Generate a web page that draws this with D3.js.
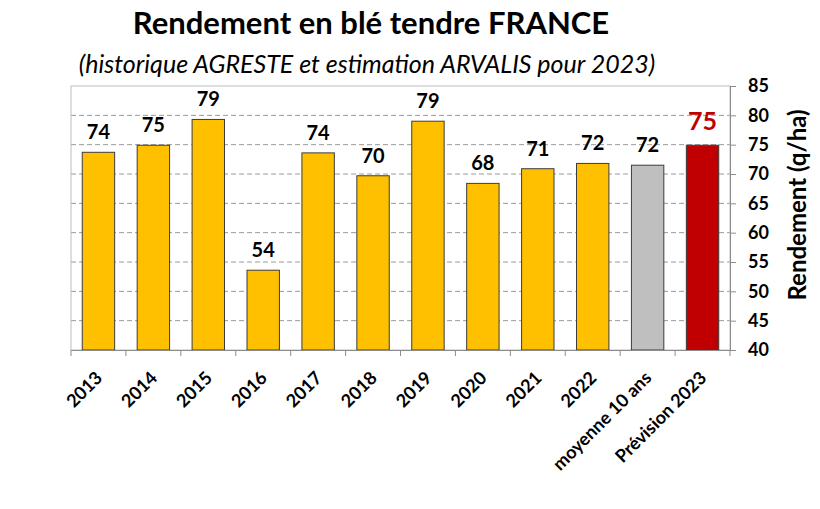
<!DOCTYPE html>
<html><head><meta charset="utf-8">
<script src="https://cdn.jsdelivr.net/npm/d3@7"></script>
<style>body{margin:0;background:#fff}svg{display:block}</style>
</head><body>
<svg id="c" width="820" height="509"></svg>
<script>
const categories = ["2013","2014","2015","2016","2017","2018","2019","2020","2021","2022","moyenne 10 ans","Prévision 2023"];
const values = [73.7, 74.9, 79.3, 53.6, 73.6, 69.7, 79.0, 68.4, 70.9, 71.8, 71.5, 74.9];
const labels = ["74","75","79","54","74","70","79","68","71","72","72","75"];
const barColors = ["#FFC000","#FFC000","#FFC000","#FFC000","#FFC000","#FFC000","#FFC000","#FFC000","#FFC000","#FFC000","#BFBFBF","#C00000"];
const yTicks = [40,45,50,55,60,65,70,75,80,85];
const title = "Rendement en blé tendre FRANCE";
const subtitle = "(historique AGRESTE et estimation ARVALIS pour 2023)";
const yTitle = "Rendement (q/ha)";

const FONT = "Lato, 'Open Sans', sans-serif";
const svg = d3.select("#c");
const L = 71, R = 730, T = 86, B = 350;

const x = d3.scaleBand().domain(categories).range([L, R]).paddingInner(0.41).paddingOuter(0.205);
const y = d3.scaleLinear().domain([40, 85]).range([B, T]);

// gridlines
svg.append("g").selectAll("line").data(yTicks.filter(t => t > 40 && t < 85)).join("line")
  .attr("x1", L).attr("x2", R).attr("y1", d => y(d)).attr("y2", d => y(d))
  .attr("stroke", "#9a9a9a").attr("stroke-width", 1).attr("stroke-dasharray", "5,3");

// plot border
svg.append("rect").attr("x", L).attr("y", T).attr("width", R - L).attr("height", B - T)
  .attr("fill", "none").attr("stroke", "#bdbdbd").attr("stroke-width", 1);

// bars
svg.append("g").selectAll("rect").data(categories).join("rect")
  .attr("x", d => x(d)).attr("width", x.bandwidth())
  .attr("y", (d, i) => y(values[i])).attr("height", (d, i) => B - y(values[i]))
  .attr("fill", (d, i) => barColors[i]).attr("stroke", "#3c3c3c").attr("stroke-width", 1);

// value labels
svg.append("g").selectAll("text").data(categories).join("text")
  .attr("x", d => x(d) + x.bandwidth() / 2)
  .attr("y", (d, i) => y(values[i]) - (i === 11 ? 15 : 13))
  .attr("text-anchor", "middle")
  .attr("font-family", FONT).attr("font-weight", "bold")
  .attr("font-size", (d, i) => i === 11 ? 25 : 20)
  .attr("fill", (d, i) => i === 11 ? "#C00000" : "#000")
  .text((d, i) => labels[i]);

// right axis
const yAxis = svg.append("g").attr("transform", `translate(${R},0)`)
  .call(d3.axisRight(y).tickValues(yTicks).tickSize(6).tickPadding(12));
yAxis.select(".domain").attr("stroke", "#8c8c8c");
yAxis.selectAll(".tick line").attr("stroke", "#8c8c8c");
yAxis.selectAll("text").attr("font-family", FONT).attr("font-weight", "bold").attr("font-size", 18).attr("fill", "#000");

// bottom axis
const xAxis = svg.append("g").attr("transform", `translate(0,${B})`)
  .call(d3.axisBottom(x).tickSize(0).tickFormat(""));
xAxis.select(".domain").attr("stroke", "#8c8c8c");
const step = x.step();
svg.append("g").selectAll("line").data(d3.range(categories.length + 1)).join("line")
  .attr("x1", i => L + i * step).attr("x2", i => L + i * step)
  .attr("y1", B).attr("y2", B + 6).attr("stroke", "#8c8c8c");

// x labels
svg.append("g").selectAll("text").data(categories).join("text")
  .attr("transform", d => `translate(${x(d) + x.bandwidth() / 2 + 5},${B + 29}) rotate(-45)`)
  .attr("text-anchor", "end")
  .attr("font-family", FONT).attr("font-weight", "bold").attr("font-size", 18).attr("fill", "#000")
  .text(d => d);

// titles
svg.append("text").attr("x", 371).attr("y", 34).attr("text-anchor", "middle")
  .attr("font-family", FONT).attr("font-weight", "bold").attr("font-size", 31).text(title);
svg.append("text").attr("x", 367).attr("y", 73).attr("text-anchor", "middle")
  .attr("font-family", FONT).attr("font-style", "italic").attr("font-size", 25).text(subtitle);

// y title
svg.append("text").attr("transform", `translate(806,205) rotate(-90)`)
  .attr("text-anchor", "middle")
  .attr("font-family", FONT).attr("font-weight", "bold").attr("font-size", 24).text(yTitle);
</script>
</body></html>
